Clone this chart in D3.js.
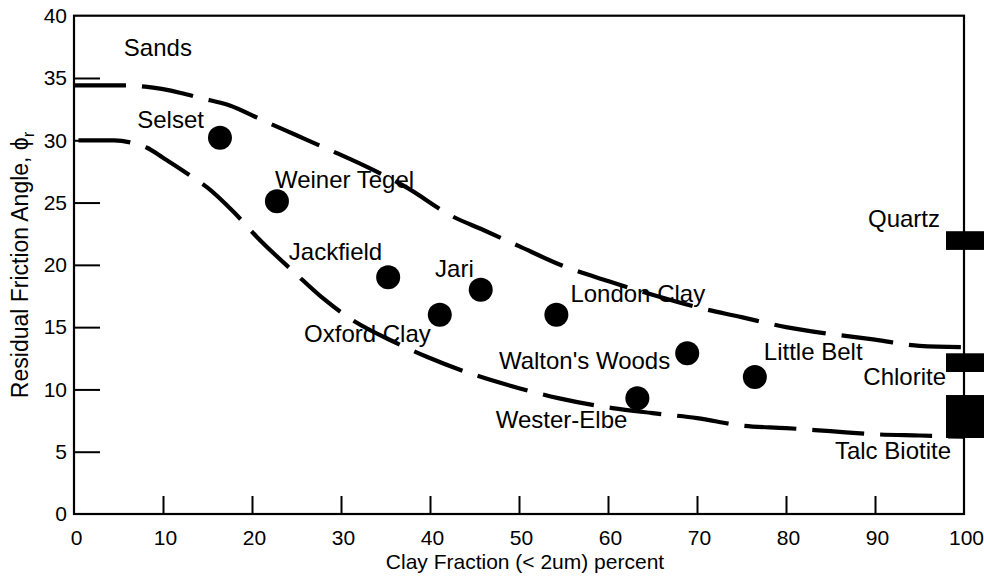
<!DOCTYPE html>
<html><head><meta charset="utf-8">
<script src="https://cdn.jsdelivr.net/npm/d3@7"></script>
<style>
html,body{margin:0;padding:0;background:#fff;}
svg text{font-family:"Liberation Sans",Arial,Helvetica,sans-serif;fill:#000;}
</style></head>
<body>
<svg id="chart" width="984" height="578"></svg>
<script>
// ---- data ----
const xTicks = [0,10,20,30,40,50,60,70,80,90,100];
const yTicks = [0,5,10,15,20,25,30,35,40];
const soilNames = ["Selset","Weiner Tegel","Jackfield","Oxford Clay","Jari","London Clay","Walton's Woods","Little Belt","Wester-Elbe"];
const clayFraction = [16.4,22.8,35.3,41.1,45.7,54.2,68.9,76.5,63.3];
const residualAngle = [30.2,25.1,19.0,16.0,18.0,16.0,12.9,11.0,9.3];
const upperBound = [[0,34.4],[6,34.4],[8,34.3],[12,33.8],[14.2,33.4],[17.5,32.8],[21.5,31.5],[25,30.4],[28.8,29.2],[32.5,28.0],[37.4,26.2],[42.5,23.9],[46,22.8],[50,21.5],[55,19.9],[60,18.7],[65,17.6],[70,16.6],[75,15.8],[80,15.0],[85,14.45],[90,14.0],[95,13.5],[100,13.4]];
const lowerBound = [[0.5,30],[4.5,30],[6.5,29.8],[8.2,29.4],[10,28.6],[13.4,27.0],[15,26.2],[18,24.2],[20.6,22.2],[24.9,19.3],[28,17.3],[31,15.7],[36.3,13.7],[39.7,12.6],[45.3,11.1],[50,10.1],[54.4,9.3],[60.5,8.5],[65,8.1],[70,7.7],[75,7.1],[80,6.9],[85,6.65],[90,6.4],[95,6.3],[100,6.2]];
const mineralNames = ["Quartz","Chlorite","Talc Biotite"];
const mineralLow = [21.2,11.4,6.1];
const mineralHigh = [22.7,12.9,9.55];
const regionLabel = "Sands";
const regionAt = [5.6,36.8];
const xTitle = "Clay Fraction (< 2um) percent";

// ---- layout (label offsets, px) ----
const soilLabelOffsets = [
  {dx:-16,dy:-10,anchor:"end"},
  {dx:-2,dy:-13,anchor:"start"},
  {dx:-6,dy:-17,anchor:"end"},
  {dx:-9,dy:27,anchor:"end"},
  {dx:-7,dy:-13,anchor:"end"},
  {dx:14,dy:-13,anchor:"start"},
  {dx:-17,dy:16,anchor:"end"},
  {dx:9,dy:-17,anchor:"start"},
  {dx:-10,dy:30,anchor:"end"}
];
const mineralLabelOffsets = [{dx:-24,dy:-4,ref:"hi"},{dx:-18,dy:13,ref:"lo"},{dx:-13,dy:21,ref:"lo"}];

const svg = d3.select("#chart");
const x = d3.scaleLinear().domain([0,100]).range([74,964]);
const y = d3.scaleLinear().domain([0,40]).range([514,15.7]);

// frame
svg.append("rect").attr("x",x(0)).attr("y",y(40)).attr("width",x(100)-x(0)).attr("height",y(0)-y(40))
 .attr("fill","none").attr("stroke","#000").attr("stroke-width",2.2);

// ticks (inward)
const xAxis = d3.axisBottom(x).tickValues(xTicks).tickSizeInner(-18).tickSizeOuter(0).tickPadding(28);
const gx = svg.append("g").attr("transform",`translate(0,${y(0)})`).call(xAxis);
gx.select(".domain").remove();
gx.selectAll(".tick line").attr("stroke-width",2).attr("stroke","#000")
  .attr("display",d=> (d===0||d===100)?"none":null);
gx.selectAll(".tick text").attr("font-size",21).attr("dy","0.0em").attr("y",31).attr("x",2)
  .style("font-family","'Liberation Sans',Arial,sans-serif");

const yAxis = d3.axisLeft(y).tickValues(yTicks).tickSizeInner(-26).tickSizeOuter(0).tickPadding(8);
const gy = svg.append("g").attr("transform",`translate(${x(0)},0)`).call(yAxis);
gy.select(".domain").remove();
gy.selectAll(".tick line").attr("stroke-width",2).attr("stroke","#000")
  .attr("display",d=> (d===0||d===40)?"none":null);
gy.selectAll(".tick text").attr("font-size",21).attr("x",-7)
  .style("font-family","'Liberation Sans',Arial,sans-serif");

// axis titles
svg.append("text").attr("x",x(50)+6).attr("y",569).attr("text-anchor","middle")
  .attr("font-size",21).text(xTitle);
const yt = svg.append("text").attr("transform",`translate(28,${(y(0)+y(40))/2}) rotate(-90)`)
  .attr("text-anchor","middle").attr("font-size",23);
yt.append("tspan").text("Residual Friction Angle, ");
yt.append("tspan").text("\u03D5");
yt.append("tspan").attr("font-size",17).attr("dy",6).text("r");

// bound curves
const line = d3.line().x(d=>x(d[0])).y(d=>y(d[1])).curve(d3.curveMonotoneX);
[upperBound, lowerBound].forEach(b=>{
  svg.append("path").attr("d",line(b)).attr("fill","none").attr("stroke","#000")
    .attr("stroke-width",4.2).attr("stroke-dasharray","52,16");
});

// mineral bars
mineralNames.forEach((n,i)=>{
  svg.append("rect").attr("x",x(100)-18).attr("width",40)
    .attr("y",y(mineralHigh[i])).attr("height",y(mineralLow[i])-y(mineralHigh[i])).attr("fill","#000");
  const o = mineralLabelOffsets[i];
  const ry = o.ref==="hi"? y(mineralHigh[i]) : y(mineralLow[i]);
  svg.append("text").attr("x",x(100)+o.dx).attr("y",ry+o.dy).attr("text-anchor","end")
    .attr("font-size",24).text(n);
});

// soil points
const pts = soilNames.map((n,i)=>({n, cx:clayFraction[i], cy:residualAngle[i], o:soilLabelOffsets[i]}));
svg.append("g").selectAll("circle").data(pts).join("circle")
  .attr("cx",d=>x(d.cx)).attr("cy",d=>y(d.cy)).attr("r",12).attr("fill","#000");
svg.append("g").selectAll("text").data(pts).join("text")
  .attr("x",d=>x(d.cx)+d.o.dx).attr("y",d=>y(d.cy)+d.o.dy).attr("text-anchor",d=>d.o.anchor)
  .attr("font-size",24).text(d=>d.n);

svg.append("text").attr("x",x(regionAt[0])).attr("y",y(regionAt[1])).attr("font-size",24).text(regionLabel);
</script>
</body></html>
